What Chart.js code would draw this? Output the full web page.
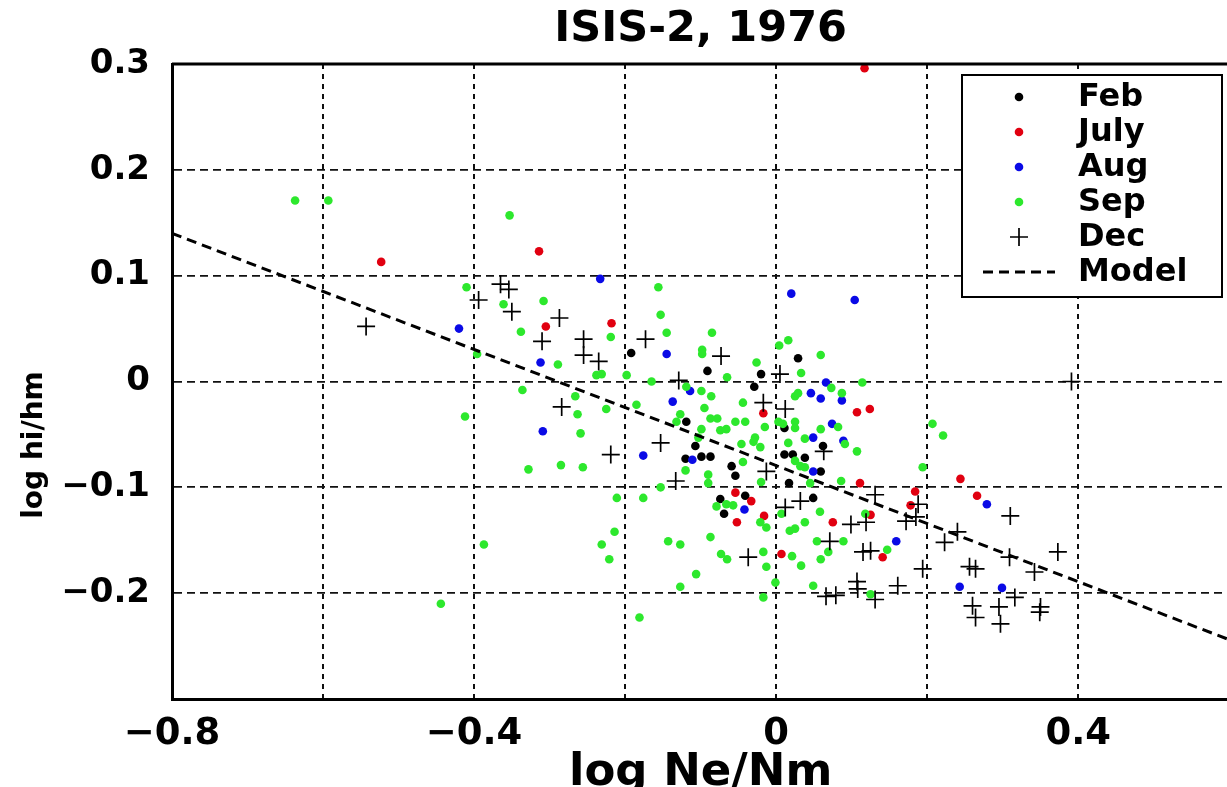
<!DOCTYPE html>
<html>
<head>
<meta charset="utf-8">
<title>ISIS-2, 1976</title>
<script src="https://cdn.jsdelivr.net/npm/chart.js@4.4.1/dist/chart.umd.min.js"></script>
<style>
    html, body { margin: 0; padding: 0; background: #fff; overflow: hidden; }
    #wrap { width: 1240px; height: 800px; }
</style>
</head>
<body>
<div id="wrap"><canvas id="isisChart" width="1240" height="800"></canvas></div>
<script>
// --- Data (log Ne/Nm, log hi/hm) ---
const feb = [
    [-0.192, 0.027], [-0.119, -0.038], [-0.107, -0.061], [-0.120, -0.073],
    [0.029, 0.022], [-0.091, 0.010], [-0.020, 0.007], [-0.029, -0.005],
    [0.011, -0.044], [0.062, -0.061], [-0.099, -0.071], [-0.087, -0.071],
    [0.011, -0.069], [0.022, -0.069], [0.038, -0.072], [-0.059, -0.080],
    [-0.054, -0.089], [0.059, -0.085], [0.017, -0.096],
    [-0.074, -0.111], [-0.069, -0.125], [-0.041, -0.108], [0.049, -0.110]
];
const july = [
    [-0.523, 0.113], [-0.314, 0.123], [0.117, 0.296], [-0.305, 0.052],
    [-0.218, 0.055], [-0.017, -0.030], [0.107, -0.029], [0.124, -0.026],
    [0.111, -0.096], [0.244, -0.092], [-0.054, -0.105], [-0.033, -0.113],
    [-0.052, -0.133], [-0.016, -0.127], [0.007, -0.163], [0.075, -0.133],
    [0.125, -0.126], [0.184, -0.104], [0.178, -0.117], [0.141, -0.166],
    [0.266, -0.108]
];
const aug = [
    [-0.233, 0.097], [-0.420, 0.050], [-0.145, 0.026], [-0.312, 0.018],
    [-0.114, -0.009], [-0.137, -0.019], [-0.309, -0.047], [-0.176, -0.070],
    [-0.111, -0.074], [0.020, 0.083], [0.104, 0.077], [0.066, -0.001],
    [0.046, -0.011], [0.059, -0.016], [0.087, -0.018], [0.074, -0.040],
    [0.049, -0.053], [0.089, -0.056], [0.049, -0.085], [-0.042, -0.121],
    [0.159, -0.151], [0.243, -0.194], [0.279, -0.116], [0.299, -0.195]
];
const sep = [
    [-0.637, 0.171], [-0.593, 0.171], [-0.353, 0.157],
    [-0.410, 0.089], [-0.156, 0.089], [-0.361, 0.073], [-0.308, 0.076],
    [-0.153, 0.063], [-0.338, 0.047], [-0.145, 0.046], [-0.219, 0.042],
    [-0.396, 0.026], [-0.289, 0.016], [-0.238, 0.006], [-0.231, 0.007],
    [-0.198, 0.006], [-0.165, 0.000], [-0.119, -0.005], [-0.336, -0.008],
    [-0.266, -0.014], [-0.225, -0.026], [-0.185, -0.022], [-0.412, -0.033],
    [-0.263, -0.031], [-0.127, -0.031], [-0.132, -0.038], [-0.259, -0.049],
    [-0.120, -0.084], [-0.328, -0.083], [-0.285, -0.079], [-0.256, -0.081],
    [-0.153, -0.100],
    [-0.085, 0.046], [-0.098, 0.030], [-0.098, 0.026], [0.016, 0.039],
    [0.004, 0.034], [0.059, 0.025], [-0.026, 0.018], [0.033, 0.008],
    [-0.065, 0.004], [0.073, -0.006], [0.114, -0.001], [-0.099, -0.009],
    [-0.086, -0.014], [0.025, -0.014], [0.029, -0.011], [0.087, -0.011],
    [-0.044, -0.020], [-0.095, -0.025], [-0.087, -0.035], [-0.078, -0.035],
    [-0.054, -0.038], [-0.041, -0.038], [0.003, -0.038], [0.025, -0.038],
    [0.009, -0.040], [0.082, -0.043], [-0.099, -0.045], [-0.074, -0.046],
    [-0.066, -0.045], [-0.015, -0.043], [0.025, -0.044], [0.059, -0.045],
    [-0.103, -0.053], [-0.028, -0.053], [0.016, -0.058], [0.038, -0.054],
    [0.091, -0.059], [-0.030, -0.057], [-0.021, -0.062], [-0.046, -0.059],
    [0.107, -0.066], [0.025, -0.075], [0.032, -0.080], [0.038, -0.081],
    [-0.044, -0.076], [0.194, -0.081], [0.207, -0.040], [0.221, -0.051],
    [-0.090, -0.088], [-0.020, -0.095], [-0.090, -0.096], [0.086, -0.094],
    [0.045, -0.096],
    [-0.211, -0.110], [-0.176, -0.110], [-0.387, -0.154], [-0.214, -0.142],
    [-0.231, -0.154], [-0.221, -0.168], [-0.143, -0.151], [-0.127, -0.154],
    [-0.106, -0.182], [-0.127, -0.194], [-0.444, -0.210], [-0.181, -0.223],
    [-0.079, -0.118], [-0.066, -0.116], [-0.057, -0.117], [-0.021, -0.133],
    [-0.013, -0.138], [0.007, -0.125], [-0.087, -0.147], [-0.073, -0.163],
    [-0.065, -0.168], [-0.017, -0.161], [-0.013, -0.175], [-0.001, -0.190],
    [-0.017, -0.204], [0.018, -0.141], [0.025, -0.139], [0.038, -0.133],
    [0.021, -0.165], [0.033, -0.174], [0.049, -0.193], [0.058, -0.123],
    [0.054, -0.151], [0.089, -0.151], [0.069, -0.161], [0.059, -0.168],
    [0.118, -0.125], [0.147, -0.159], [0.125, -0.201]
];
const dec = [
    [-0.543, 0.052], [-0.365, 0.092], [-0.354, 0.087], [-0.394, 0.077],
    [-0.350, 0.066], [-0.287, 0.060], [-0.310, 0.038], [-0.255, 0.040],
    [-0.173, 0.040], [-0.255, 0.025], [-0.235, 0.019], [-0.129, 0.001],
    [-0.284, -0.024], [-0.153, -0.058], [-0.219, -0.069], [-0.133, -0.094],
    [-0.073, 0.024], [0.005, 0.007], [-0.017, -0.020], [0.012, -0.026],
    [0.063, -0.066], [-0.013, -0.085], [0.391, 0.000], [0.012, -0.119],
    [0.032, -0.113], [-0.037, -0.166], [0.071, -0.151], [0.099, -0.135],
    [0.119, -0.133], [0.131, -0.107], [0.188, -0.116], [0.172, -0.132],
    [0.185, -0.128], [0.125, -0.160], [0.115, -0.161], [0.107, -0.189],
    [0.108, -0.196], [0.066, -0.203], [0.079, -0.202], [0.131, -0.206],
    [0.161, -0.193], [0.194, -0.177], [0.223, -0.152], [0.240, -0.142],
    [0.310, -0.127], [0.373, -0.161], [0.309, -0.166], [0.256, -0.175],
    [0.264, -0.177], [0.342, -0.180], [0.316, -0.204], [0.260, -0.212],
    [0.295, -0.213], [0.350, -0.213], [0.349, -0.218], [0.264, -0.223],
    [0.297, -0.229]
];
// model line end points
const modelX = [-0.8, 0.6];
const modelY = [0.140, -0.244];

// axis ticks
const xTicks = [-0.8, -0.6, -0.4, -0.2, 0, 0.2, 0.4, 0.6];
const xTickLabels = ['\u22120.8', '', '\u22120.4', '', '0', '', '0.4', ''];
const yTicks = [-0.3, -0.2, -0.1, 0, 0.1, 0.2, 0.3];
const yTickLabels = ['', '\u22120.2', '\u22120.1', '0', '0.1', '0.2', '0.3'];
const yAxisTitle = 'log hi/hm';

const toPoints = arr => arr.map(([x, y]) => ({ x, y }));
const FONT = "'DejaVu Sans', sans-serif";

// --- Legend drawn inside the plot, like the matlab one ---
const boxLegend = {
    id: 'boxLegend',
    afterDraw(chart, args, opts) {
        const ctx = chart.ctx;
        ctx.save();
        ctx.fillStyle = '#fff';
        ctx.fillRect(opts.left, opts.top, opts.width, opts.height);
        ctx.strokeStyle = '#000';
        ctx.lineWidth = 2;
        ctx.strokeRect(opts.left, opts.top, opts.width, opts.height);

        ctx.font = `bold ${opts.fontSize}px ${FONT}`;
        ctx.textBaseline = 'middle';
        ctx.textAlign = 'left';
        chart.data.datasets.forEach((ds, i) => {
            const y = opts.firstRow + i * opts.rowStep;
            const mx = opts.markerX;
            if (ds.showLine) {
                ctx.strokeStyle = ds.borderColor;
                ctx.lineWidth = ds.borderWidth;
                ctx.setLineDash(ds.borderDash);
                ctx.beginPath();
                ctx.moveTo(mx - 36, y);
                ctx.lineTo(mx + 36, y);
                ctx.stroke();
                ctx.setLineDash([]);
            } else if (ds.pointStyle === 'cross') {
                const r = ds.pointRadius;
                ctx.strokeStyle = ds.borderColor;
                ctx.lineWidth = ds.borderWidth;
                ctx.beginPath();
                ctx.moveTo(mx - r, y); ctx.lineTo(mx + r, y);
                ctx.moveTo(mx, y - r); ctx.lineTo(mx, y + r);
                ctx.stroke();
            } else {
                ctx.fillStyle = ds.backgroundColor;
                ctx.beginPath();
                ctx.arc(mx, y, ds.pointRadius, 0, Math.PI * 2);
                ctx.fill();
            }
            ctx.fillStyle = '#000';
            ctx.fillText(ds.label, opts.textX, y + 1);
        });
        ctx.restore();
    }
};

// --- Top and right edges of the axes box, plus the y label ---
const axesFrame = {
    id: 'axesFrame',
    afterDatasetsDraw(chart, args, opts) {
        const { ctx, chartArea: a } = chart;
        ctx.save();
        ctx.strokeStyle = '#000';
        ctx.lineWidth = 3;
        ctx.beginPath();
        ctx.moveTo(a.left, a.top);
        ctx.lineTo(a.right, a.top);
        ctx.lineTo(a.right, a.bottom);
        ctx.stroke();

        // ylabel sits a bit below the axes middle in the original
        ctx.translate(opts.labelX, opts.labelY);
        ctx.rotate(-Math.PI / 2);
        ctx.font = `bold ${opts.labelSize}px ${FONT}`;
        ctx.fillStyle = '#000';
        ctx.textAlign = 'center';
        ctx.textBaseline = 'middle';
        ctx.fillText(yAxisTitle, 0, 0);
        ctx.restore();
    }
};

const dot = (label, data, color, order) => ({
    label: label,
    data: toPoints(data),
    backgroundColor: color,
    borderColor: color,
    borderWidth: 0,
    pointRadius: 4.3,
    pointStyle: 'circle',
    order: order
});

const ctx = document.getElementById('isisChart').getContext('2d');
new Chart(ctx, {
    type: 'scatter',
    data: {
        datasets: [
            dot('Feb', feb, '#000000', 6),
            dot('July', july, '#e10010', 5),
            dot('Aug', aug, '#0a0ae6', 4),
            dot('Sep', sep, '#2de82d', 3),
            {
                label: 'Dec',
                data: toPoints(dec),
                pointStyle: 'cross',
                pointRadius: 9,
                borderColor: '#000',
                backgroundColor: '#000',
                borderWidth: 1.7,
                order: 2
            },
            {
                label: 'Model',
                type: 'line',
                data: modelX.map((x, i) => ({ x, y: modelY[i] })),
                showLine: true,
                borderColor: '#000',
                borderWidth: 3,
                borderDash: [10, 6],
                pointRadius: 0,
                fill: false,
                order: 1
            }
        ]
    },
    options: {
        responsive: false,
        animation: false,
        events: [],
        layout: { padding: { left: 0, right: 6, top: 0, bottom: 0 } },
        plugins: {
            legend: { display: false },
            tooltip: { enabled: false },
            title: {
                display: true,
                fullSize: false,
                text: 'ISIS-2, 1976',
                color: '#000',
                font: { family: FONT, size: 43, weight: 'bold', lineHeight: 1 },
                padding: { top: 8, bottom: 13 }
            },
            boxLegend: {
                left: 962, top: 75, width: 260, height: 222,
                markerX: 1019, textX: 1078,
                firstRow: 97, rowStep: 35, fontSize: 32
            },
            axesFrame: { labelX: 35, labelY: 445, labelSize: 28 }
        },
        scales: {
            x: {
                type: 'linear',
                min: -0.8,
                max: 0.6,
                afterBuildTicks: scale => { scale.ticks = xTicks.map(v => ({ value: v })); },
                afterFit: scale => {
                    scale.height = 101;
                    scale.paddingLeft = 0;
                    scale.paddingRight = 0;
                },
                ticks: {
                    color: '#000',
                    padding: 17,
                    maxRotation: 0,
                    autoSkip: false,
                    font: { family: FONT, size: 37, weight: 'bold', lineHeight: 1 },
                    callback: (v, i) => xTickLabels[i]
                },
                grid: { color: '#111', lineWidth: 2, drawTicks: false },
                border: { color: '#000', width: 3, dash: [5, 5] },
                title: {
                    display: true,
                    text: 'log Ne/Nm',
                    color: '#000',
                    font: { family: FONT, size: 45, weight: 'bold', lineHeight: 1 },
                    padding: { top: 0, bottom: 4 }
                }
            },
            y: {
                type: 'linear',
                min: -0.3,
                max: 0.3,
                afterBuildTicks: scale => { scale.ticks = yTicks.map(v => ({ value: v })); },
                afterFit: scale => { scale.width = 172; },
                ticks: {
                    color: '#000',
                    padding: 22,
                    autoSkip: false,
                    font: { family: FONT, size: 34, weight: 'bold', lineHeight: 1 },
                    callback: (v, i) => yTickLabels[i]
                },
                grid: { color: '#111', lineWidth: 1.8, drawTicks: false },
                border: { color: '#000', width: 3, dash: [8, 5] },
                title: { display: false }
            }
        }
    },
    plugins: [boxLegend, axesFrame]
});
</script>
</body>
</html>
